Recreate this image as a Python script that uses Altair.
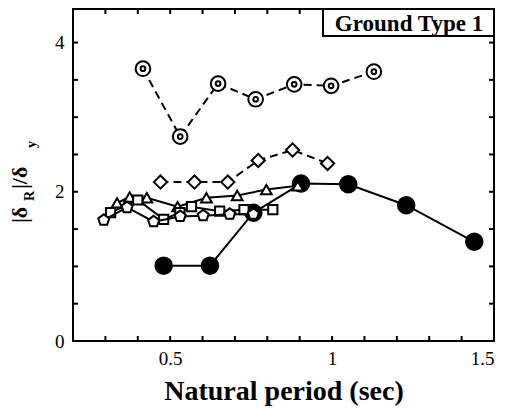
import altair as alt
import pandas as pd

# ---- data ----
x_dc = [0.416, 0.531, 0.648, 0.764, 0.883, 0.997, 1.129]   # double circles (dashed)
y_dc = [3.65, 2.74, 3.45, 3.24, 3.44, 3.42, 3.61]
x_dm = [0.470, 0.575, 0.678, 0.772, 0.878, 0.986]          # diamonds (dashed)
y_dm = [2.13, 2.13, 2.13, 2.42, 2.56, 2.38]
x_fc = [0.480, 0.623, 0.757, 0.904, 1.050, 1.229, 1.439]   # filled circles
y_fc = [1.01, 1.01, 1.72, 2.11, 2.10, 1.82, 1.33]
x_tr = [0.336, 0.375, 0.428, 0.523, 0.612, 0.707, 0.797, 0.894]  # triangles
y_tr = [1.85, 1.93, 1.92, 1.80, 1.92, 1.95, 2.03, 2.08]
x_sq = [0.316, 0.400, 0.480, 0.530, 0.566, 0.653, 0.728, 0.817]  # squares
y_sq = [1.72, 1.89, 1.63, 1.72, 1.80, 1.74, 1.76, 1.76]
x_pt = [0.295, 0.367, 0.449, 0.531, 0.602, 0.684, 0.757]   # pentagons
y_pt = [1.62, 1.79, 1.60, 1.67, 1.68, 1.70, 1.70]

x_ticks = [0.3, 0.4, 0.5, 0.6, 0.7, 0.8, 0.9, 1.0, 1.1, 1.2, 1.3, 1.4]
y_ticks = [0.5, 1.0, 1.5, 2.0, 2.5, 3.0, 3.5, 4.0]
x_labels = [0.5, 1.0, 1.5]
y_labels = [0, 2, 4]
box_text = "Ground Type 1"

W, H = 421, 332
FONT = "Liberation Serif"
PENTAGON = "M0,-1L0.951,-0.309L0.588,0.809L-0.588,0.809L-0.951,-0.309Z"

xs = alt.Scale(domain=[0.2, 1.5], nice=False, zero=False)
ys = alt.Scale(domain=[0, 4.45], nice=False, zero=False)

x_axis = alt.Axis(values=x_labels, format="~g", grid=False, domain=False,
                  ticks=False, tickSize=0, labelFont=FONT, labelFontSize=19,
                  labelColor="black", labelPadding=8, titleFont=FONT,
                  titleFontSize=28, titleFontWeight="bold", titleColor="black",
                  titlePadding=9)
y_axis = alt.Axis(values=y_labels, format="d", grid=False, domain=False,
                  ticks=False, tickSize=0, labelFont=FONT, labelFontSize=19,
                  labelColor="black", labelPadding=9)


def df(x, y):
    return pd.DataFrame({"x": x, "y": y})


def X():
    return alt.X("x:Q", scale=xs, title="Natural period (sec)", axis=x_axis)


def Y():
    return alt.Y("y:Q", scale=ys, title=None, axis=y_axis)


def series(x, y, shape, size, filled_black=False, dashed=False):
    d = df(x, y)
    line_kw = dict(color="black", strokeWidth=2)
    if dashed:
        line_kw["strokeDash"] = [8, 5]
    line = alt.Chart(d).mark_line(**line_kw).encode(x=X(), y=Y())
    pt = alt.Chart(d).mark_point(shape=shape, size=size, filled=True,
                                 fill="black" if filled_black else "white",
                                 stroke="black", strokeWidth=2, opacity=1).encode(x=X(), y=Y())
    return [line, pt]


layers = []
layers += series(x_fc, y_fc, "circle", 272, filled_black=True)
layers += series(x_tr, y_tr, "triangle-up", 115)
layers += series(x_sq, y_sq, "square", 85)
layers += series(x_pt, y_pt, PENTAGON, 135)
layers += series(x_dm, y_dm, "diamond", 175, dashed=True)
layers += series(x_dc, y_dc, "circle", 215, dashed=True)
# inner dot of double circles
layers.append(alt.Chart(df(x_dc, y_dc)).mark_point(shape="circle", size=22, filled=False,
              stroke="black", strokeWidth=2, opacity=1).encode(x=X(), y=Y()))

# inward ticks
xt = pd.DataFrame({"x": x_ticks})
yt = pd.DataFrame({"y": y_ticks})
layers.append(alt.Chart(xt).mark_rule(color="black", strokeWidth=2).encode(
    x=X(), y=alt.value(H), y2=alt.value(H - 5)))
layers.append(alt.Chart(xt).mark_rule(color="black", strokeWidth=2).encode(
    x=X(), y=alt.value(0), y2=alt.value(5)))
layers.append(alt.Chart(yt).mark_rule(color="black", strokeWidth=2).encode(
    y=Y(), x=alt.value(0), x2=alt.value(5)))
layers.append(alt.Chart(yt).mark_rule(color="black", strokeWidth=2).encode(
    y=Y(), x=alt.value(W), x2=alt.value(W - 5)))

one = pd.DataFrame({"a": [0]})
# label box
layers.append(alt.Chart(one).mark_rect(fill="white", stroke="black", strokeWidth=2).encode(
    x=alt.value(250), x2=alt.value(W), y=alt.value(0), y2=alt.value(27)))
layers.append(alt.Chart(one).mark_text(text=box_text, font=FONT, fontSize=23, fontWeight="bold",
                                       align="center", baseline="alphabetic", color="black").encode(
    x=alt.value(336), y=alt.value(22)))

# y-axis title |δR|/δy built from pieces
pieces = [("|δ", 22, -53, 214), ("R", 14, -43, 192), ("|/δ", 22, -53, 180), ("y", 14, -41, 139)]
for txt, fs, px, py in pieces:
    layers.append(alt.Chart(one).mark_text(text=txt, font=FONT, fontSize=fs, fontWeight="bold",
                                           angle=270, align="left", baseline="middle",
                                           color="black").encode(
        x=alt.value(px), y=alt.value(py)))

chart = alt.layer(*layers).properties(
    width=W, height=H,
    autosize=alt.AutoSizeParams(type="none"),
    padding={"left": 65, "top": 1, "right": 8, "bottom": 70},
    background="white",
).configure_view(stroke="black", strokeWidth=2).configure_axis(
    labelFont=FONT, titleFont=FONT)

chart.save("out.html", embed_options={"renderer": "svg", "actions": False})
